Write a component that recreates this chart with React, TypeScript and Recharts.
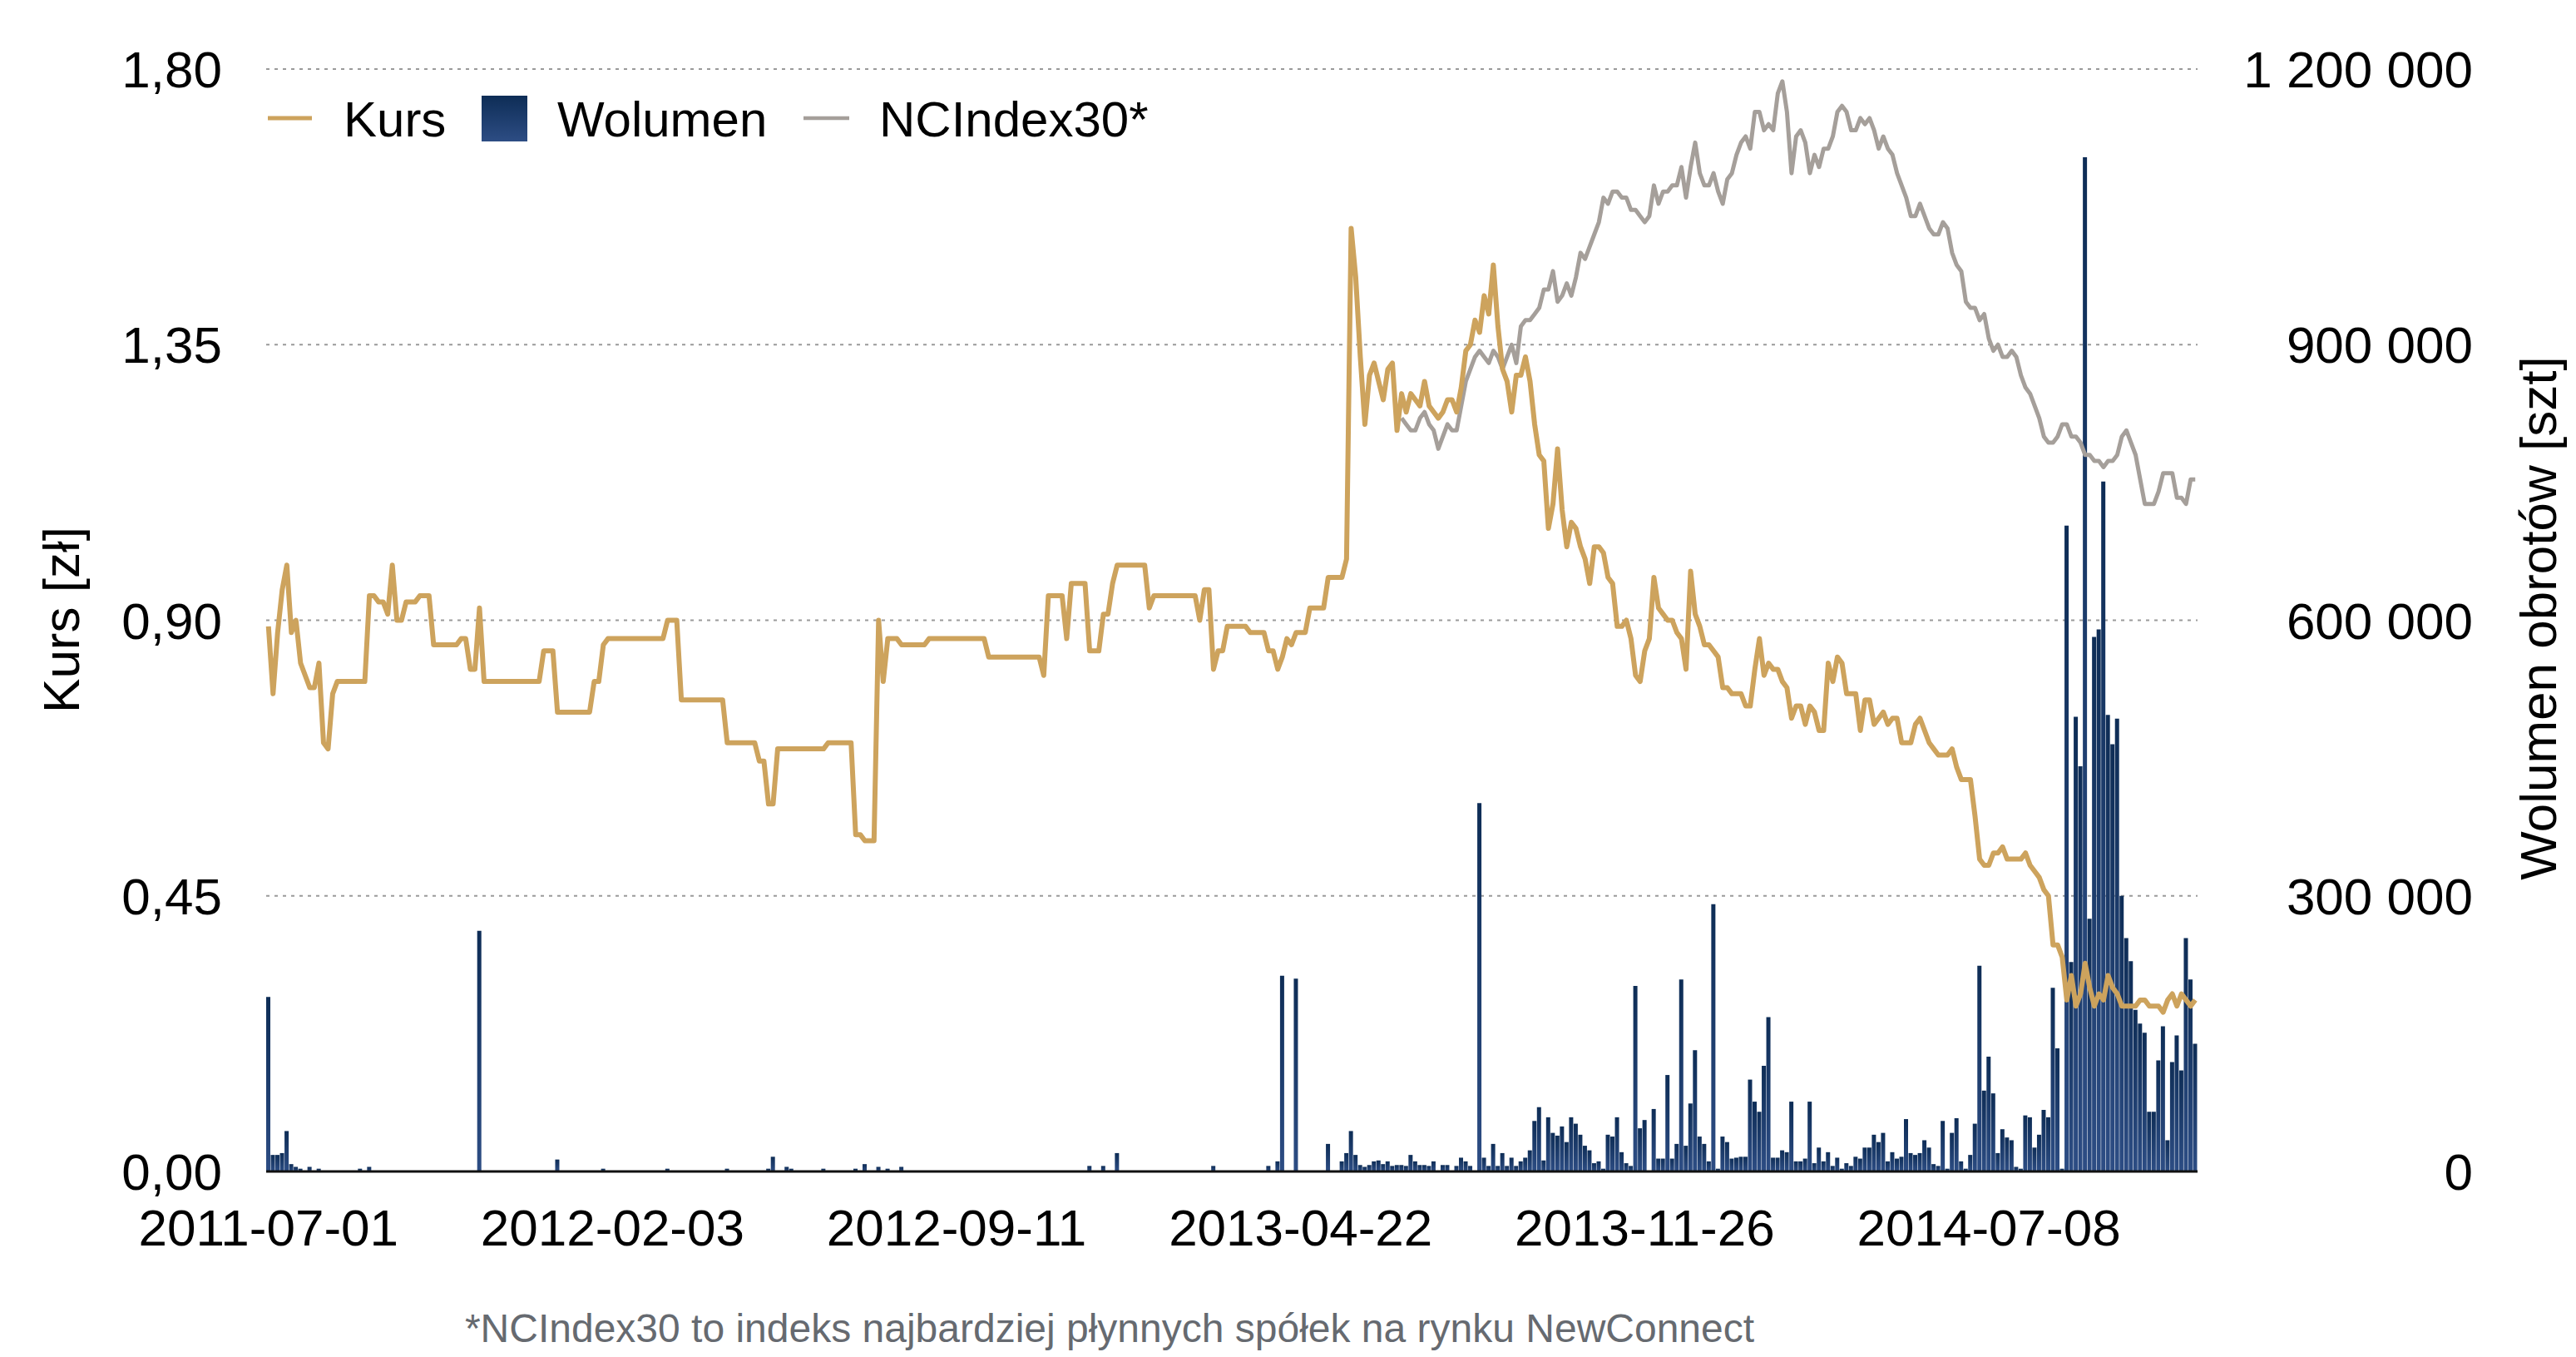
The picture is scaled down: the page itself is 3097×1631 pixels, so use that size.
import React from 'react';
import { ComposedChart, Bar, Line, XAxis, YAxis, CartesianGrid } from 'recharts';

// one point = 2 trading days, 2011-07-01 .. late 2014
const tickIdx = [0, 75, 150, 225, 300, 375];
const tickDates = ['2011-07-01', '2012-02-03', '2012-09-11', '2013-04-22', '2013-11-26', '2014-07-08'];

// Kurs [zł]
const kurs = [
  0.89, 0.78, 0.88, 0.95, 0.99, 0.88, 0.90, 0.83, 0.81, 0.79,
  0.79, 0.83, 0.70, 0.69, 0.78, 0.80, 0.80, 0.80, 0.80, 0.80,
  0.80, 0.80, 0.94, 0.94, 0.93, 0.93, 0.91, 0.99, 0.90, 0.90,
  0.93, 0.93, 0.93, 0.94, 0.94, 0.94, 0.86, 0.86, 0.86, 0.86,
  0.86, 0.86, 0.87, 0.87, 0.82, 0.82, 0.92, 0.80, 0.80, 0.80,
  0.80, 0.80, 0.80, 0.80, 0.80, 0.80, 0.80, 0.80, 0.80, 0.80,
  0.85, 0.85, 0.85, 0.75, 0.75, 0.75, 0.75, 0.75, 0.75, 0.75,
  0.75, 0.80, 0.80, 0.86, 0.87, 0.87, 0.87, 0.87, 0.87, 0.87,
  0.87, 0.87, 0.87, 0.87, 0.87, 0.87, 0.87, 0.90, 0.90, 0.90,
  0.77, 0.77, 0.77, 0.77, 0.77, 0.77, 0.77, 0.77, 0.77, 0.77,
  0.70, 0.70, 0.70, 0.70, 0.70, 0.70, 0.70, 0.67, 0.67, 0.60,
  0.60, 0.69, 0.69, 0.69, 0.69, 0.69, 0.69, 0.69, 0.69, 0.69,
  0.69, 0.69, 0.70, 0.70, 0.70, 0.70, 0.70, 0.70, 0.55, 0.55,
  0.54, 0.54, 0.54, 0.90, 0.80, 0.87, 0.87, 0.87, 0.86, 0.86,
  0.86, 0.86, 0.86, 0.86, 0.87, 0.87, 0.87, 0.87, 0.87, 0.87,
  0.87, 0.87, 0.87, 0.87, 0.87, 0.87, 0.87, 0.84, 0.84, 0.84,
  0.84, 0.84, 0.84, 0.84, 0.84, 0.84, 0.84, 0.84, 0.84, 0.81,
  0.94, 0.94, 0.94, 0.94, 0.87, 0.96, 0.96, 0.96, 0.96, 0.85,
  0.85, 0.85, 0.91, 0.91, 0.96, 0.99, 0.99, 0.99, 0.99, 0.99,
  0.99, 0.99, 0.92, 0.94, 0.94, 0.94, 0.94, 0.94, 0.94, 0.94,
  0.94, 0.94, 0.94, 0.90, 0.95, 0.95, 0.82, 0.85, 0.85, 0.89,
  0.89, 0.89, 0.89, 0.89, 0.88, 0.88, 0.88, 0.88, 0.85, 0.85,
  0.82, 0.84, 0.87, 0.86, 0.88, 0.88, 0.88, 0.92, 0.92, 0.92,
  0.92, 0.97, 0.97, 0.97, 0.97, 1.00, 1.54, 1.46, 1.33, 1.22,
  1.30, 1.32, 1.29, 1.26, 1.31, 1.32, 1.21, 1.27, 1.24, 1.27,
  1.26, 1.25, 1.29, 1.25, 1.24, 1.23, 1.24, 1.26, 1.26, 1.24,
  1.28, 1.34, 1.35, 1.39, 1.37, 1.43, 1.40, 1.48, 1.38, 1.31,
  1.29, 1.24, 1.30, 1.30, 1.33, 1.29, 1.22, 1.17, 1.16, 1.05,
  1.09, 1.18, 1.08, 1.02, 1.06, 1.05, 1.02, 1.00, 0.96, 1.02,
  1.02, 1.01, 0.97, 0.96, 0.89, 0.89, 0.90, 0.87, 0.81, 0.80,
  0.85, 0.87, 0.97, 0.92, 0.91, 0.90, 0.90, 0.88, 0.87, 0.82,
  0.98, 0.91, 0.89, 0.86, 0.86, 0.85, 0.84, 0.79, 0.79, 0.78,
  0.78, 0.78, 0.76, 0.76, 0.82, 0.87, 0.81, 0.83, 0.82, 0.82,
  0.80, 0.79, 0.74, 0.76, 0.76, 0.73, 0.76, 0.75, 0.72, 0.72,
  0.83, 0.80, 0.84, 0.83, 0.78, 0.78, 0.78, 0.72, 0.77, 0.77,
  0.73, 0.74, 0.75, 0.73, 0.74, 0.74, 0.70, 0.70, 0.70, 0.73,
  0.74, 0.72, 0.70, 0.69, 0.68, 0.68, 0.68, 0.69, 0.66, 0.64,
  0.64, 0.64, 0.58, 0.51, 0.50, 0.50, 0.52, 0.52, 0.53, 0.51,
  0.51, 0.51, 0.51, 0.52, 0.50, 0.49, 0.48, 0.46, 0.45, 0.37,
  0.37, 0.35, 0.28, 0.32, 0.27, 0.29, 0.34, 0.30, 0.27, 0.29,
  0.28, 0.32, 0.30, 0.29, 0.27, 0.27, 0.27, 0.27, 0.28, 0.28,
  0.27, 0.27, 0.27, 0.26, 0.28, 0.29, 0.27, 0.29, 0.28, 0.27,
  0.28,
];

// Wolumen obrotów, thousands of shares
const wolumenTys = [
  190, 18, 18, 20, 44, 8, 5, 3, 0, 5,
  0, 3, 0, 0, 0, 0, 0, 0, 0, 0,
  3, 0, 5, 0, 0, 0, 0, 0, 0, 0,
  0, 0, 0, 0, 0, 0, 0, 0, 0, 0,
  0, 0, 0, 0, 0, 0, 262, 0, 0, 0,
  0, 0, 0, 0, 0, 0, 0, 0, 0, 0,
  0, 0, 0, 13, 0, 0, 0, 0, 0, 0,
  0, 0, 0, 3, 0, 0, 0, 0, 0, 0,
  0, 0, 0, 0, 0, 0, 0, 3, 0, 0,
  0, 0, 0, 0, 0, 0, 0, 0, 0, 0,
  3, 0, 0, 0, 0, 0, 0, 0, 0, 3,
  16, 0, 0, 5, 3, 0, 0, 0, 0, 0,
  0, 3, 0, 0, 0, 0, 0, 0, 3, 0,
  8, 0, 0, 5, 0, 3, 0, 0, 5, 0,
  0, 0, 0, 0, 0, 0, 0, 0, 0, 0,
  0, 0, 0, 0, 0, 0, 0, 0, 0, 0,
  0, 0, 0, 0, 0, 0, 0, 0, 0, 0,
  0, 0, 0, 0, 0, 0, 0, 0, 0, 6,
  0, 0, 6, 0, 0, 20, 0, 0, 0, 0,
  0, 0, 0, 0, 0, 0, 0, 0, 0, 0,
  0, 0, 0, 0, 0, 0, 6, 0, 0, 0,
  0, 0, 0, 0, 0, 0, 0, 0, 6, 0,
  11, 213, 0, 0, 210, 0, 0, 0, 0, 0,
  0, 30, 0, 0, 11, 20, 44, 18, 7, 5,
  7, 11, 12, 8, 11, 6, 7, 7, 6, 18,
  11, 7, 7, 6, 11, 0, 7, 7, 0, 6,
  15, 11, 6, 0, 401, 15, 6, 30, 6, 20,
  6, 15, 6, 11, 15, 23, 55, 70, 12, 59,
  42, 39, 49, 32, 59, 52, 40, 28, 23, 9,
  11, 3, 40, 38, 59, 21, 9, 6, 202, 47,
  56, 0, 68, 14, 14, 105, 14, 30, 209, 28,
  74, 132, 38, 30, 11, 291, 3, 38, 32, 14,
  15, 16, 16, 100, 76, 65, 115, 168, 15, 15,
  23, 21, 76, 11, 11, 14, 76, 9, 26, 11,
  21, 6, 15, 3, 9, 6, 16, 14, 26, 26,
  40, 32, 42, 11, 21, 14, 16, 57, 20, 18,
  20, 34, 26, 8, 6, 55, 3, 42, 58, 11,
  3, 18, 52, 224, 88, 125, 85, 20, 46, 37,
  34, 5, 3, 61, 59, 26, 40, 67, 59, 200,
  134, 3, 703, 228, 495, 441, 1104, 275, 582, 590,
  751, 497, 465, 493, 300, 254, 229, 176, 161, 151,
  65, 65, 121, 158, 34, 119, 148, 110, 254, 209,
  139,
];

// NCIndex30, drawn on the price scale, starts at point 247
const ncStart = 247;
const ncIndex = [
  1.23, 1.22, 1.21,
  1.21, 1.23, 1.24, 1.22, 1.21, 1.18, 1.20, 1.22, 1.21, 1.21,
  1.25, 1.29, 1.31, 1.33, 1.34, 1.33, 1.32, 1.34, 1.33, 1.31,
  1.33, 1.35, 1.32, 1.38, 1.39, 1.39, 1.40, 1.41, 1.44, 1.44,
  1.47, 1.42, 1.43, 1.45, 1.43, 1.46, 1.50, 1.49, 1.51, 1.53,
  1.55, 1.59, 1.58, 1.60, 1.60, 1.59, 1.59, 1.57, 1.57, 1.56,
  1.55, 1.56, 1.61, 1.58, 1.60, 1.60, 1.61, 1.61, 1.64, 1.59,
  1.64, 1.68, 1.63, 1.61, 1.61, 1.63, 1.60, 1.58, 1.62, 1.63,
  1.66, 1.68, 1.69, 1.67, 1.73, 1.73, 1.70, 1.71, 1.70, 1.76,
  1.78, 1.73, 1.63, 1.69, 1.70, 1.68, 1.63, 1.66, 1.64, 1.67,
  1.67, 1.69, 1.73, 1.74, 1.73, 1.70, 1.70, 1.72, 1.71, 1.72,
  1.70, 1.67, 1.69, 1.67, 1.66, 1.63, 1.61, 1.59, 1.56, 1.56,
  1.58, 1.56, 1.54, 1.53, 1.53, 1.55, 1.54, 1.50, 1.48, 1.47,
  1.42, 1.41, 1.41, 1.39, 1.40, 1.36, 1.34, 1.35, 1.33, 1.33,
  1.34, 1.33, 1.30, 1.28, 1.27, 1.25, 1.23, 1.20, 1.19, 1.19,
  1.20, 1.22, 1.22, 1.20, 1.20, 1.19, 1.17, 1.17, 1.16, 1.16,
  1.15, 1.16, 1.16, 1.17, 1.20, 1.21, 1.19, 1.17, 1.13, 1.09,
  1.09, 1.09, 1.11, 1.14, 1.14, 1.14, 1.10, 1.10, 1.09, 1.13,
  1.13,
];

const kursTicks = [0, 0.45, 0.9, 1.35, 1.8];
const wolTicks = [0, 300000, 600000, 900000, 1200000];

const rows = kurs.map((k, i) => ({
  i,
  kurs: k,
  wolumen: wolumenTys[i] * 1000,
  nc: i >= ncStart ? ncIndex[i - ncStart] : null,
}));

const FONT = '"Liberation Sans", Arial, sans-serif';
const GOLD = '#CDA35D';
const GREY = '#A59F9A';

const fmtKurs = (v: number) => v.toFixed(2).replace('.', ',');
const fmtWol = (v: number) => String(v).replace(/\B(?=(\d{3})+(?!\d))/g, ' ');
const fmtDate = (v: number) => tickDates[tickIdx.indexOf(v)] ?? '';

function RightTick(props: any) {
  const { x, y, payload } = props;
  return (
    <text x={x + 331} y={y} dy="0.355em" textAnchor="end" fontSize={62} fontFamily={FONT} fill="#000">
      {fmtWol(payload.value)}
    </text>
  );
}

export default function App() {
  return (
    <div style={{ position: 'absolute', left: 0, top: 0, width: 3097, height: 1631, background: '#fff', fontFamily: FONT }}>
      <ComposedChart width={3097} height={1631} data={rows} margin={{ top: 83, right: 0, bottom: 0, left: 0 }}>
        <defs>
          <linearGradient id="volGrad" x1="0" y1="0" x2="0" y2="1">
            <stop offset="0%" stopColor="#0E2D56" />
            <stop offset="100%" stopColor="#2D4D84" />
          </linearGradient>
        </defs>
        <CartesianGrid yAxisId="left" vertical={false} stroke="#9a9a9a" strokeWidth={2} strokeDasharray="4 6" />
        <XAxis
          dataKey="i"
          type="category"
          ticks={tickIdx}
          interval={0}
          tickFormatter={fmtDate}
          height={223}
          tickLine={false}
          tickMargin={39}
          axisLine={{ stroke: '#111', strokeWidth: 3 }}
          tick={{ fontSize: 62, fill: '#000', fontFamily: FONT }}
        />
        <YAxis
          yAxisId="left"
          orientation="left"
          width={320}
          domain={[0, 1.8]}
          ticks={kursTicks}
          tickFormatter={fmtKurs}
          axisLine={false}
          tickLine={false}
          tickSize={0}
          tickMargin={53}
          tick={{ fontSize: 62, fill: '#000', fontFamily: FONT }}
        />
        <YAxis
          yAxisId="right"
          orientation="right"
          width={455}
          domain={[0, 1200000]}
          ticks={wolTicks}
          axisLine={false}
          tickLine={false}
          tickSize={0}
          tickMargin={0}
          tick={<RightTick />}
        />
        <Line
          yAxisId="left"
          dataKey="nc"
          type="linear"
          stroke={GREY}
          strokeWidth={5}
          strokeLinejoin="round"
          dot={false}
          connectNulls={false}
          isAnimationActive={false}
        />
        <Bar yAxisId="right" dataKey="wolumen" fill="url(#volGrad)" barSize={5} isAnimationActive={false} />
        <Line
          yAxisId="left"
          dataKey="kurs"
          type="linear"
          stroke={GOLD}
          strokeWidth={6}
          strokeLinejoin="round"
          dot={false}
          isAnimationActive={false}
        />
      </ComposedChart>

      <svg width={3097} height={1631} style={{ position: 'absolute', left: 0, top: 0, pointerEvents: 'none' }}>
        <defs>
          <linearGradient id="legGrad" x1="0" y1="0" x2="0" y2="1">
            <stop offset="0%" stopColor="#0E2D56" />
            <stop offset="100%" stopColor="#2D4D84" />
          </linearGradient>
        </defs>
        <g fontFamily={FONT} fontSize={60} fill="#000">
          <line x1={322} y1={142} x2={375} y2={142} stroke={GOLD} strokeWidth={5} />
          <text x={413} y={164}>Kurs</text>
          <rect x={579} y={115} width={55} height={55} fill="url(#legGrad)" />
          <text x={670} y={164}>Wolumen</text>
          <line x1={966} y1={142} x2={1021} y2={142} stroke={GREY} strokeWidth={4.5} />
          <text x={1057} y={164}>NCIndex30*</text>
        </g>
        <text
          transform="translate(73,745) rotate(-90)"
          y={22}
          textAnchor="middle"
          fontFamily={FONT}
          fontSize={62}
          fill="#000"
        >
          Kurs [zł]
        </text>
        <text
          transform="translate(3051,743) rotate(-90)"
          y={22}
          textAnchor="middle"
          fontFamily={FONT}
          fontSize={62}
          fill="#000"
        >
          Wolumen obrotów [szt]
        </text>
        <text x={1334} y={1613} textAnchor="middle" fontFamily={FONT} fontSize={48} fill="#666a70">
          *NCIndex30 to indeks najbardziej płynnych spółek na rynku NewConnect
        </text>
      </svg>
    </div>
  );
}
